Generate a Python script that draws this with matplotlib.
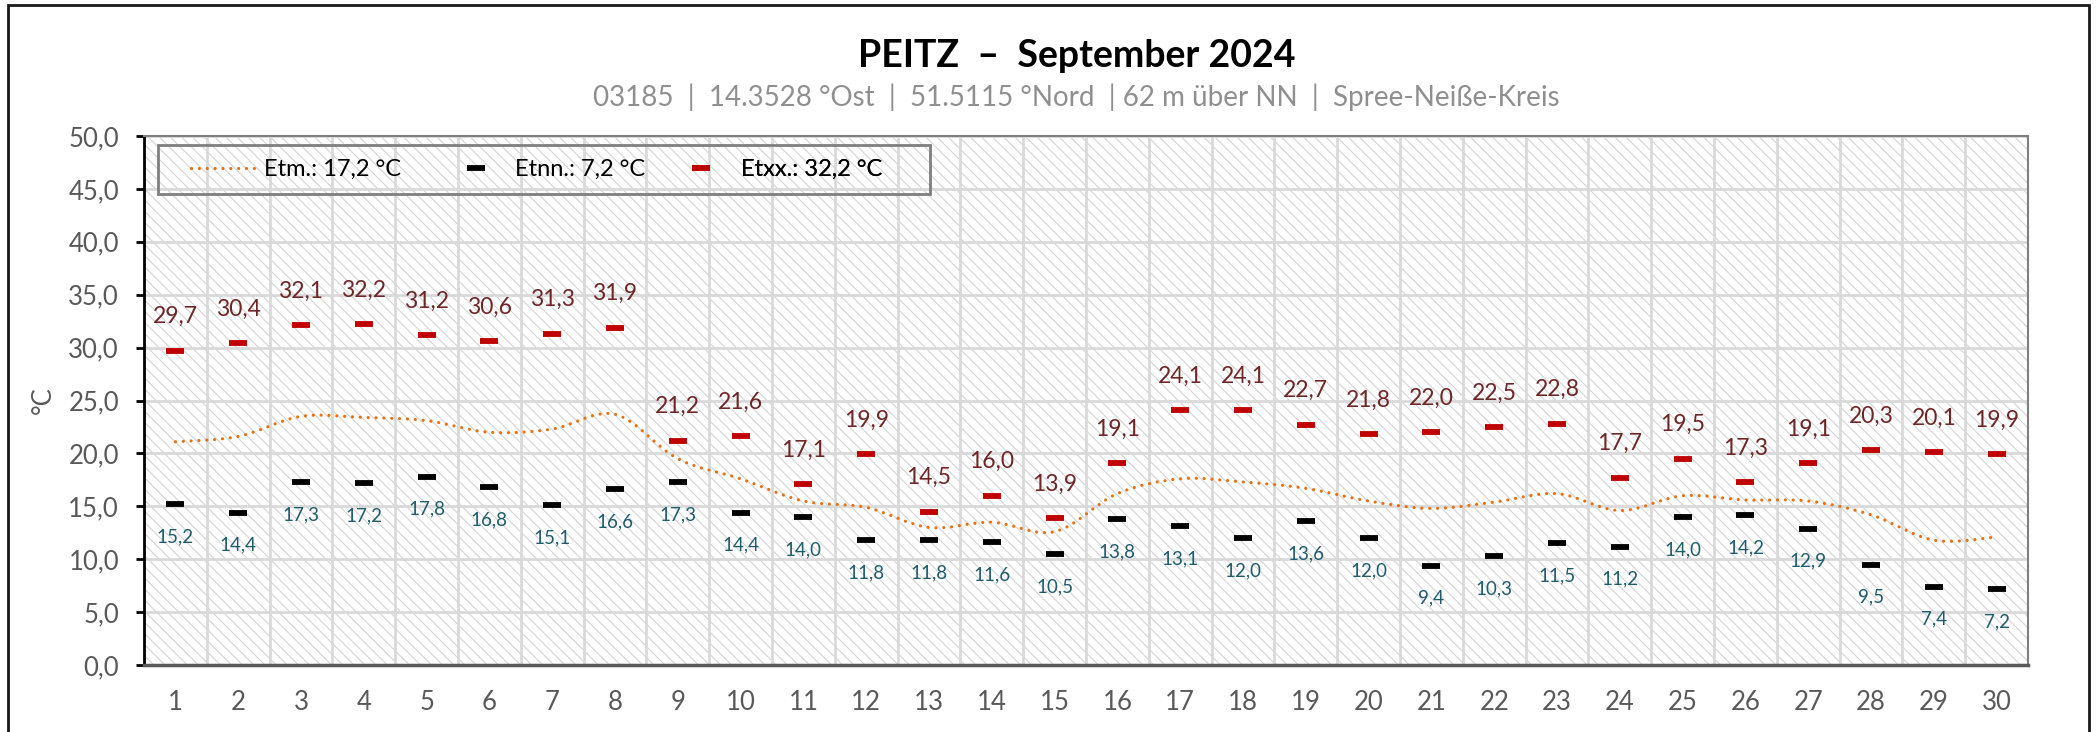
import numpy as np
import matplotlib
matplotlib.use("Agg")
import matplotlib.pyplot as plt
from matplotlib.path import Path
from matplotlib.patches import PathPatch, Rectangle
from matplotlib.lines import Line2D

plt.rcParams['font.family'] = ['Lato', 'DejaVu Sans']
plt.rcParams['hatch.linewidth'] = 0.8

# Daten: Tageswerte September 2024, Station Peitz
tage = list(range(1, 31))
etxx = [29.7, 30.4, 32.1, 32.2, 31.2, 30.6, 31.3, 31.9, 21.2, 21.6,
        17.1, 19.9, 14.5, 16.0, 13.9, 19.1, 24.1, 24.1, 22.7, 21.8,
        22.0, 22.5, 22.8, 17.7, 19.5, 17.3, 19.1, 20.3, 20.1, 19.9]
etnn = [15.2, 14.4, 17.3, 17.2, 17.8, 16.8, 15.1, 16.6, 17.3, 14.4,
        14.0, 11.8, 11.8, 11.6, 10.5, 13.8, 13.1, 12.0, 13.6, 12.0,
        9.4, 10.3, 11.5, 11.2, 14.0, 14.2, 12.9, 9.5, 7.4, 7.2]
etm = [21.1, 21.6, 23.5, 23.4, 23.1, 22.0, 22.3, 23.7, 19.5, 17.6,
       15.5, 14.9, 13.0, 13.5, 12.6, 16.2, 17.6, 17.3, 16.7, 15.5,
       14.8, 15.4, 16.2, 14.6, 16.0, 15.6, 15.5, 14.2, 11.8, 12.1]
y_ticks = [0, 5, 10, 15, 20, 25, 30, 35, 40, 45, 50]

titel = "PEITZ  \u2013  September 2024"
untertitel = "03185  |  14.3528 \u00b0Ost  |  51.5115 \u00b0Nord  | 62 m \u00fcber NN  |  Spree-Nei\u00dfe-Kreis"

def komma(v):
    return f"{v:.1f}".replace('.', ',')

fig = plt.figure(figsize=(20.99, 7.32), dpi=100)
ax = fig.add_axes([0.0686, 0.0915, 0.8976, 0.7227])

# Rahmen um das ganze Diagramm
fig.patches.append(Rectangle((0.004, -0.05), 0.991, 1.043, transform=fig.transFigure,
                             fill=False, edgecolor='#1A1A1A', linewidth=2))

# schraffierter Hintergrund
ax.patch.set_facecolor('white')
ax.add_patch(Rectangle((0, 0), 1, 1, transform=ax.transAxes, facecolor='white',
                       edgecolor='#D4D4D4', linewidth=0, hatch='\\\\\\', zorder=0))

ax.set_xlim(0.5, 30.5)
ax.set_ylim(0, 50)
ax.set_yticks(y_ticks)
ax.set_yticklabels([komma(v) for v in y_ticks])
ax.set_xticks(tage)
ax.set_xticks(np.arange(0.5, 31, 1), minor=True)
ax.grid(which='minor', axis='x', color='#D9D9D9', linewidth=2)
ax.grid(which='major', axis='y', color='#D9D9D9', linewidth=2)
ax.set_axisbelow(True)

ax.tick_params(axis='y', which='major', length=6, width=2, color='black',
               labelsize=18.5, labelcolor='#595959', pad=12)
ax.tick_params(axis='x', which='both', length=0, labelsize=18.5, labelcolor='#595959', pad=18)

for s in ['top', 'right']:
    ax.spines[s].set_color('#7F7F7F')
    ax.spines[s].set_linewidth(1.5)
ax.spines['left'].set_color('black')
ax.spines['left'].set_linewidth(2)
ax.spines['bottom'].set_color('#595959')
ax.spines['bottom'].set_linewidth(2.5)

ax.set_ylabel('\u00b0C', fontsize=18.5, color='#595959')
ax.yaxis.label.set_va('center')
ax.yaxis.set_label_coords(-0.0536, 0.5)

# geglättete Mittelwertlinie (Catmull-Rom als Bezier)
p = list(zip(tage, etm))
verts = [p[0]]
codes = [Path.MOVETO]
for i in range(len(p) - 1):
    p0 = p[i - 1] if i > 0 else p[i]
    p1 = p[i]
    p2 = p[i + 1]
    p3 = p[i + 2] if i + 2 < len(p) else p[i + 1]
    c1 = (p1[0] + (p2[0] - p0[0]) / 6, p1[1] + (p2[1] - p0[1]) / 6)
    c2 = (p2[0] - (p3[0] - p1[0]) / 6, p2[1] - (p3[1] - p1[1]) / 6)
    verts += [c1, c2, p2]
    codes += [Path.CURVE4] * 3
punkt = (0, (0.01, 2.45))
linie = PathPatch(Path(verts, codes), fill=False, edgecolor='#E8700F', linewidth=2.3,
                  linestyle=punkt, capstyle='round', zorder=3)
ax.add_patch(linie)

ax.plot(tage, etnn, linestyle='none', marker='_', markersize=12.7, markeredgewidth=4.2,
        color='black', zorder=4)
ax.plot(tage, etxx, linestyle='none', marker='_', markersize=12.7, markeredgewidth=4.2,
        color='#C00000', zorder=4)

for x, v in zip(tage, etxx):
    ax.annotate(komma(v), (x, v), xytext=(0, 24.5), textcoords='offset points',
                ha='center', va='center', fontsize=16.5, color='#6E2626')
for x, v in zip(tage, etnn):
    ax.annotate(komma(v), (x, v), xytext=(0, -23.5), textcoords='offset points',
                ha='center', va='center', fontsize=13.5, color='#1F5C6C')

# Legende mit eigenem Rahmen, Einträge einzeln platziert
ax.add_patch(Rectangle((0.0074, 0.890), 0.410, 0.093, transform=ax.transAxes,
                       fill=False, edgecolor='#7F7F7F', linewidth=2, zorder=5))
h_m = Line2D([], [], color='#E8700F', linewidth=2.3, linestyle=punkt,
             dash_capstyle='round')
h_n = Line2D([], [], color='black', linestyle='none', marker='_', markersize=12.7,
             markeredgewidth=4.2)
h_x = Line2D([], [], color='#C00000', linestyle='none', marker='_', markersize=12.7,
             markeredgewidth=4.2)
eintraege = [(h_m, f"Etm.: {komma(np.mean(etm))} \u00b0C", 0.0249),
             (h_n, f"Etnn.: {komma(min(etnn))} \u00b0C", 0.1584),
             (h_x, f"Etxx.: {komma(max(etxx))} \u00b0C", 0.278)]
for h, txt, x0 in eintraege:
    lg = ax.legend([h], [txt], loc='center left', bbox_to_anchor=(x0, 0.9365),
                   fontsize=17, frameon=False, handlelength=2.84, handletextpad=0.25,
                   borderpad=0, borderaxespad=0)
    ax.add_artist(lg)

fig.text(0.513, 0.923, titel, ha='center', va='center', fontsize=27,
         fontweight='bold', color='black')
fig.text(0.513, 0.867, untertitel, ha='center', va='center', fontsize=20, color='#8F8F8F')

fig.savefig('out.png', dpi=100)
